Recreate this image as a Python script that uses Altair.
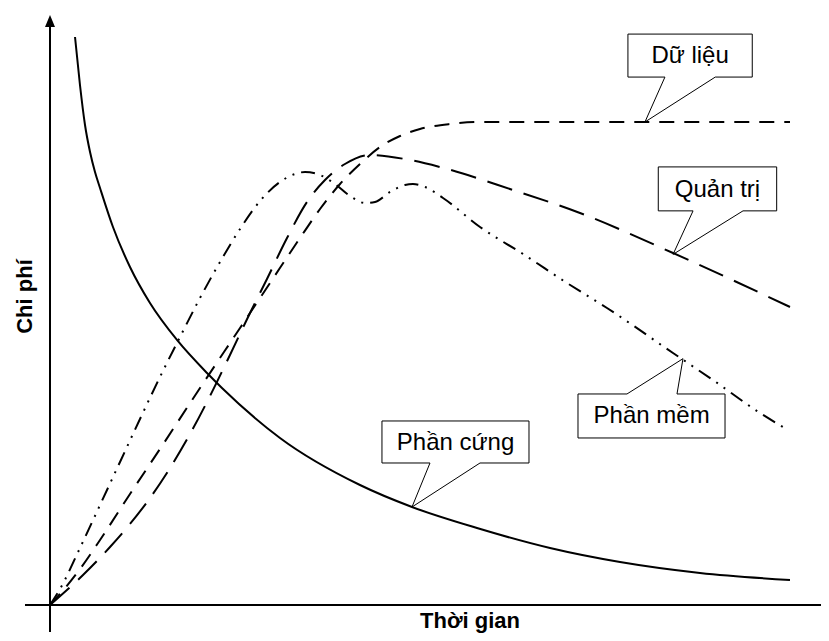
import altair as alt
import pandas as pd

# ---- data (time units 0..100, cost units 0..~120) ----
hw_t = [3.38, 4.05, 4.73, 5.41, 6.08, 6.76, 8.51, 10.81, 13.51, 17.16, 21.22, 23.24, 31.08, 41.89, 48.92, 57.70, 67.57, 77.03, 87.84, 100.0]
hw_c = [117.60, 107.66, 99.38, 93.79, 89.65, 86.34, 78.26, 69.98, 62.53, 54.87, 48.03, 44.93, 34.58, 24.84, 20.29, 15.94, 11.80, 8.90, 6.63, 5.18]

data_t = [0.0, 2.03, 4.05, 6.76, 10.81, 14.86, 20.27, 25.68, 29.73, 33.78, 36.49, 39.19, 41.89, 44.59, 47.30, 50.0, 54.05, 58.11, 100.0]
data_c = [0.0, 3.52, 7.45, 13.46, 22.98, 32.30, 44.93, 57.35, 66.67, 75.98, 81.99, 87.16, 91.30, 94.82, 97.10, 98.55, 99.59, 100.0, 100.0]

mgmt_t = [0.0, 4.46, 8.11, 10.81, 13.51, 16.22, 18.92, 21.62, 24.32, 27.03, 29.32, 32.03, 34.73, 37.16, 39.86, 43.24, 48.65, 52.70, 62.57, 71.62, 84.19, 100.0]
mgmt_c = [0.0, 6.21, 12.01, 16.77, 22.15, 28.36, 35.40, 43.27, 51.76, 60.46, 67.49, 75.98, 83.44, 87.99, 91.30, 93.17, 92.13, 90.68, 85.92, 81.16, 72.88, 61.70]

sw_t = [0.0, 1.35, 4.05, 6.76, 9.46, 12.16, 14.86, 17.57, 20.27, 22.97, 25.68, 28.38, 31.08, 33.11, 34.46, 36.49, 38.51, 40.54, 42.57, 43.92, 45.95, 47.97, 49.05, 50.68, 53.11, 58.11, 63.92, 69.86, 75.27, 84.19, 89.59, 95.95, 99.73]
sw_c = [0.0, 3.31, 11.80, 20.70, 29.61, 38.51, 47.20, 55.49, 63.56, 71.01, 77.85, 83.64, 87.58, 89.23, 89.65, 89.03, 87.16, 84.68, 83.23, 83.44, 85.51, 86.96, 87.16, 86.54, 84.27, 78.26, 72.67, 66.67, 61.49, 52.17, 46.58, 39.75, 36.23]

labels = ["Dữ liệu", "Quản trị", "Phần mềm", "Phần cứng"]
x_title = "Thời gian"
y_title = "Chi phí"

# callout annotations (data units)
callouts = {
    "Dữ liệu": ([78.1, 94.9, 94.9, 89.9, 80.4, 83.1, 78.1, 78.1],
                [118.2, 118.2, 109.3, 109.3, 100.0, 109.3, 109.3, 118.2]),
    "Quản trị": ([82.2, 98.2, 98.2, 93.65, 84.2, 86.9, 82.2, 82.2],
                 [90.7, 90.7, 81.6, 81.6, 72.6, 81.6, 81.6, 90.7]),
    "Phần mềm": ([71.35, 77.97, 85.54, 84.73, 91.22, 91.22, 71.35, 71.35],
                 [43.69, 43.69, 51.0, 43.69, 43.69, 34.58, 34.58, 43.69]),
    "Phần cứng": ([44.86, 64.73, 64.73, 58.11, 48.92, 51.35, 44.86, 44.86],
                  [38.1, 38.1, 29.4, 29.4, 20.29, 29.4, 29.4, 38.1]),
}
label_t = [86.5, 90.2, 81.3, 54.8]
label_c = [112.2, 84.5, 37.7, 32.1]

# ---- scales ----
X_MIN, X_MAX = -5.676, 104.19
Y_MIN, Y_MAX = -5.797, 123.60
xs = alt.Scale(domain=[X_MIN, X_MAX], nice=False, zero=False)
ys = alt.Scale(domain=[Y_MIN, Y_MAX], nice=False, zero=False)


def sdf(t, c):
    return pd.DataFrame({"t": t, "c": c, "i": list(range(len(t)))})


def curve(t, c, dash=None):
    kw = dict(color="black", strokeWidth=2, interpolate="monotone")
    if dash:
        kw["strokeDash"] = dash
    return alt.Chart(sdf(t, c)).mark_line(**kw).encode(
        x=alt.X("t:Q", scale=xs, axis=None),
        y=alt.Y("c:Q", scale=ys, axis=None),
        order="i:Q",
    )


hw = curve(hw_t, hw_c)
dl = curve(data_t, data_c, [15, 10])
qt = curve(mgmt_t, mgmt_c, [26, 12])
pm = curve(sw_t, sw_c, [14, 7, 2, 7, 2, 7])

# callout shapes
rows = []
for name, (tt, cc) in callouts.items():
    for k, (a, b) in enumerate(zip(tt, cc)):
        rows.append({"name": name, "t": a, "c": b, "i": k})
cdf = pd.DataFrame(rows)
boxes = alt.Chart(cdf).mark_line(color="black", strokeWidth=1).encode(
    x=alt.X("t:Q", scale=xs, axis=None),
    y=alt.Y("c:Q", scale=ys, axis=None),
    detail="name:N",
    order="i:Q",
)

ldf = pd.DataFrame({"label": labels, "t": label_t, "c": label_c})
texts = alt.Chart(ldf).mark_text(
    font="Liberation Sans", fontSize=24, align="center", baseline="alphabetic", color="black"
).encode(
    x=alt.X("t:Q", scale=xs, axis=None),
    y=alt.Y("c:Q", scale=ys, axis=None),
    text="label:N",
)

# axes
axdf = pd.DataFrame({"t": [0.0, -3.38], "t2": [0.0, 104.3], "c": [-5.59, 0.0], "c2": [120.3, 0.0]})
axes = alt.Chart(axdf).mark_rule(color="black", strokeWidth=2).encode(
    x=alt.X("t:Q", scale=xs, axis=None),
    x2="t2:Q",
    y=alt.Y("c:Q", scale=ys, axis=None),
    y2="c2:Q",
)
arrow = alt.Chart(pd.DataFrame({"t": [0.0], "c": [120.9]})).mark_point(
    shape="M0,-1L0.833,1L-0.833,1Z", filled=True, color="black", size=144, opacity=1
).encode(
    x=alt.X("t:Q", scale=xs, axis=None),
    y=alt.Y("c:Q", scale=ys, axis=None),
)

xt = alt.Chart(pd.DataFrame({"label": [x_title], "t": [56.76], "c": [-4.76]})).mark_text(
    font="Liberation Sans", fontSize=22, fontWeight="bold", align="center", baseline="alphabetic", color="black"
).encode(
    x=alt.X("t:Q", scale=xs, axis=None),
    y=alt.Y("c:Q", scale=ys, axis=None),
    text="label:N",
)
yt = alt.Chart(pd.DataFrame({"label": [y_title], "t": [-2.43], "c": [63.87]})).mark_text(
    font="Liberation Sans", fontSize=22, fontWeight="bold", align="center", baseline="alphabetic",
    angle=270, color="black"
).encode(
    x=alt.X("t:Q", scale=xs, axis=None),
    y=alt.Y("c:Q", scale=ys, axis=None),
    text="label:N",
)

chart = alt.layer(axes, arrow, hw, dl, qt, pm, boxes, texts, xt, yt).properties(
    width=813, height=625, padding=0, autosize="none", background="white"
).configure_view(stroke=None)

chart.save("out.html", embed_options={"renderer": "svg", "actions": False})
